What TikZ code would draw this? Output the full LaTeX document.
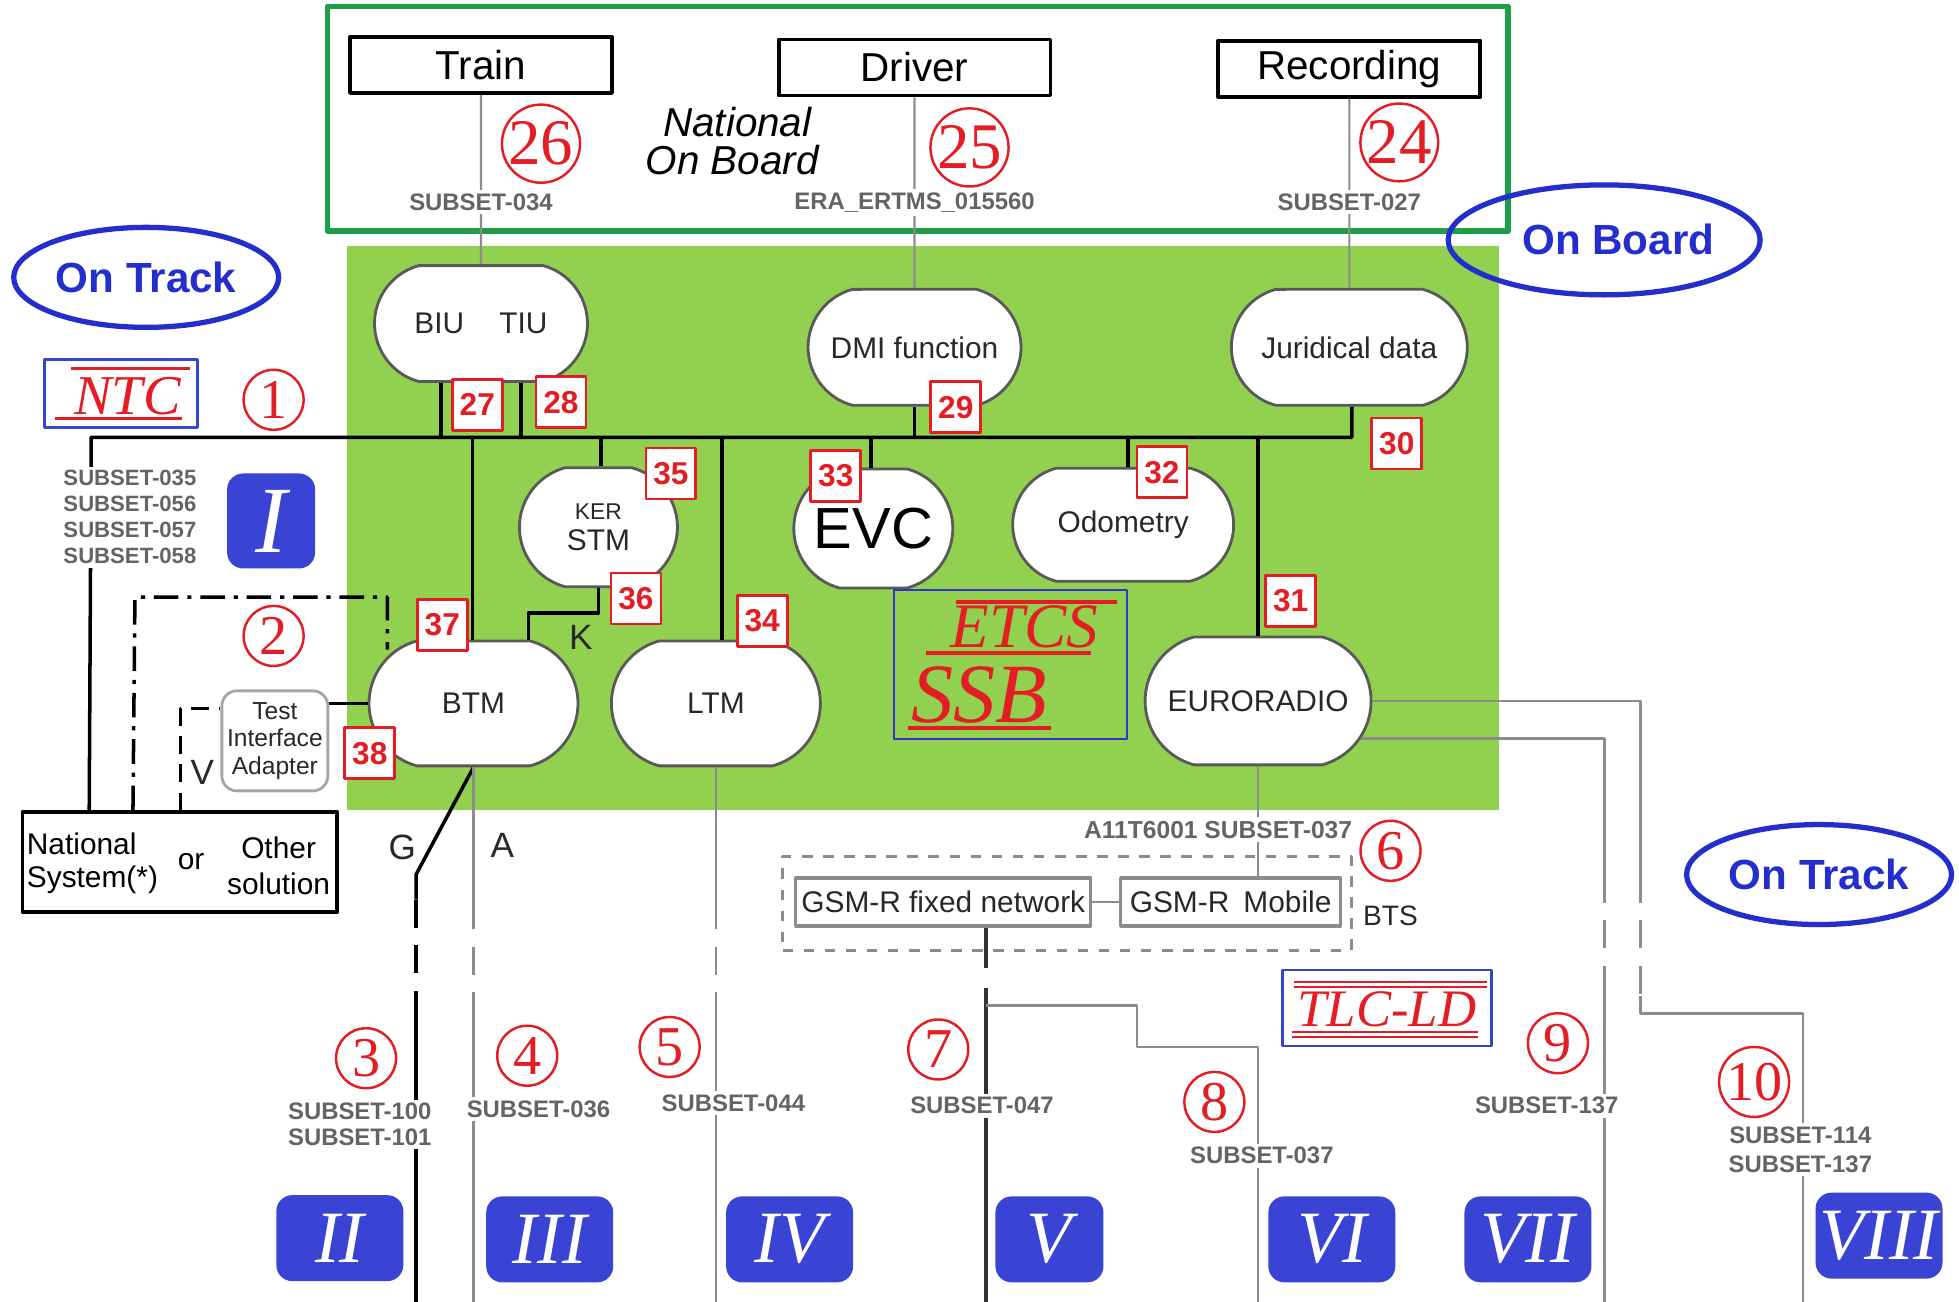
\documentclass[tikz,border=0pt]{standalone}
\usepackage{fontspec}
\setmainfont{Liberation Sans}
\newfontfamily\timesfont{Liberation Serif}
\usepackage{xcolor}
\usepackage{tikz}
\usetikzlibrary{shapes.geometric, shapes.misc, positioning, calc}

\definecolor{ssbgreen}{RGB}{146,208,80}
\definecolor{framegreen}{RGB}{30,158,70}
\definecolor{ovalblue}{RGB}{36,46,205}
\definecolor{romanblue}{RGB}{58,68,212}
\definecolor{refred}{RGB}{228,28,36}
\definecolor{wiregray}{RGB}{140,140,140}
\definecolor{subgray}{RGB}{100,100,100}
\definecolor{textgray}{RGB}{40,40,40}
\definecolor{boxblue}{RGB}{50,70,210}

\newcommand{\fsz}[2]{\fontsize{#1}{#2}\selectfont}

\begin{document}
\begin{tikzpicture}[x=0.0125cm, y=-0.0125cm, line join=round]
    \tikzstyle{extbox} = [rectangle, draw=black, line width=1.1pt, fill=white, minimum width=2.62cm, minimum height=0.56cm, inner sep=0pt, font=\fsz{11.5}{12}]
    \tikzstyle{func} = [rounded rectangle, rounded rectangle arc length=150, draw=black!65, line width=0.8pt, fill=white, text=textgray, minimum width=2.2cm, minimum height=1.16cm, inner sep=1pt, align=center, font=\fsz{8.5}{9}]
    \tikzstyle{reftag} = [rectangle, draw=refred, line width=0.8pt, fill=white, text=refred, minimum width=0.5cm, minimum height=0.51cm, inner sep=0pt, font=\bfseries\fsz{9}{9}]
    \tikzstyle{circnum} = [circle, draw=refred, line width=0.7pt, fill=white, text=refred, minimum size=0.6cm, inner sep=0pt, font=\timesfont\fsz{16}{16}]
    \tikzstyle{bigcircnum} = [circnum, minimum size=0.77cm, font=\timesfont\fsz{18.5}{18.5}]
    \tikzstyle{roman} = [rectangle, rounded corners=0.16cm, fill=romanblue, text=white, minimum width=1.27cm, minimum height=0.86cm, inner sep=0pt, font=\timesfont\itshape\fsz{21}{21}]
    \tikzstyle{subset} = [fill=white, text=subgray, inner sep=1pt, align=center, font=\bfseries\fsz{6.8}{7.3}]
    \tikzstyle{oval} = [ellipse, draw=ovalblue, line width=1.5pt, text=ovalblue, minimum width=2.65cm, minimum height=1.0cm, inner sep=0pt, font=\bfseries\fsz{12}{12}]
    \tikzstyle{titlebox} = [rectangle, draw=boxblue, line width=0.7pt]
    \tikzstyle{titletext} = [text=refred, inner sep=0pt, font=\timesfont\itshape]
    \tikzstyle{bar} = [refred, line width=1.1pt]
    \tikzstyle{bus} = [black, line width=1pt]
    \tikzstyle{wire} = [wiregray, line width=0.75pt]
    \tikzstyle{airgap} = [dash pattern=on 8pt off 5pt]
    \tikzstyle{letter} = [inner sep=0pt, text=textgray, font=\fsz{10}{10}]
    \tikzstyle{gsm} = [rectangle, draw=wiregray, line width=0.9pt, fill=white, minimum height=0.48cm, inner sep=1pt, text=textgray, font=\fsz{8.5}{9}]

    \useasboundingbox (0,0) rectangle (1568,1042);

    % Backgrounds: on board unit area and national on board frame
    \fill[white] (0,0) rectangle (1568,1042);
    \fill[ssbgreen] (278,197) rectangle (1200,648);
    \draw[framegreen, line width=1.5pt] (262,5) rectangle (1207,185);

    % National on board equipment
    \node (train) [extbox] at (385,52) {Train};
    \node (driver) [extbox, minimum width=2.72cm] at (732,54) {Driver};
    \node (record) [extbox] at (1080,55) {Recording};
    \node (natob) [align=left, inner sep=0pt, font=\itshape\fsz{11.5}{10.6}] at (586,113) {\hspace*{5pt}National\\On Board};

    % ETCS functions
    \node (biu) [func] at (385,259) {BIU\hspace{10pt}TIU};
    \node (dmi) [func] at (732,278) {DMI function};
    \node (jur) [func, minimum width=2.43cm] at (1080,278) {Juridical data};
    \node (kstm) [func, minimum width=1.65cm, minimum height=1.19cm] at (479,422) {{\fsz{6.5}{7}KER}\\STM};
    \node (evc) [func, minimum width=1.66cm, minimum height=1.19cm, text=black, font=\fsz{16.5}{17}] at (699,423) {EVC};
    \node (odo) [func, minimum width=2.28cm, minimum height=1.13cm] at (899,420) {Odometry};
    \node (btm) [func, minimum width=2.16cm, minimum height=1.25cm] at (379,563) {BTM};
    \node (ltm) [func, minimum width=2.16cm, minimum height=1.25cm] at (573,563) {LTM};
    \node (radio) [func, minimum width=2.33cm, minimum height=1.28cm] at (1007,561) {EURORADIO};

    % National system, test adapter and radio network
    \node (natsys) [rectangle, draw=black, line width=1.1pt, fill=white, minimum width=3.15cm, minimum height=1.0cm] at (144,690) {};
    \node (nsleft) [align=left, inner sep=0pt, font=\fsz{8.5}{9.5}] at (74,691) {National\\System(*)};
    \node (nsor) [inner sep=0pt, font=\fsz{8.5}{9.5}] at (153,690) {or};
    \node (nsright) [align=center, inner sep=0pt, font=\fsz{8.5}{10}] at (223,693) {Other\\solution};
    \node (tia) [rectangle, rounded corners=0.15cm, draw=black!35, line width=0.8pt, fill=white, minimum width=1.06cm, minimum height=1.0cm, inner sep=1pt, align=center, text=textgray, font=\fsz{7}{7.8}] at (220,593) {Test\\Interface\\Adapter};
    \node (gsmbox) [rectangle, draw=wiregray, dashed, line width=0.8pt, minimum width=5.69cm, minimum height=0.94cm] at (854,723) {};
    \node (gsmf) [gsm, minimum width=2.95cm] at (755,722) {GSM-R fixed network};
    \node (gsmm) [gsm, minimum width=2.2cm] at (985,722) {GSM-R\hspace{4pt}Mobile};

    % Bus inside the on board unit
    \coordinate (busW) at (73,350);
    \coordinate (busE) at (1082,350);
    \coordinate (jbiu) at (353,350);
    \coordinate (jtiu) at (417,350);
    \coordinate (jbtm) at (378,350);
    \coordinate (jker) at (481,350);
    \coordinate (jltm) at (578,350);
    \coordinate (jevc) at (697,350);
    \coordinate (jdmi) at (732,350);
    \coordinate (jodo) at (903,350);
    \coordinate (jrad) at (1007,350);
    \draw[bus] ($(natsys.north west)+(55,0)$) -- (busW) -- (busE) -- (jur.south -| busE);
    \draw[bus] (biu.south -| jbiu) -- (jbiu);
    \draw[bus] (biu.south -| jtiu) -- (jtiu);
    \draw[bus] (jbtm) -- (btm.north -| jbtm);
    \draw[bus] (jker) -- (kstm.north -| jker);
    \draw[bus] (jltm) -- (ltm.north -| jltm);
    \draw[bus] (jevc) -- (evc.north -| jevc);
    \draw[bus] (dmi.south) -- (jdmi);
    \draw[bus] (jodo) -- (odo.north -| jodo);
    \draw[bus] (jrad) -- (radio.north);
    \draw[bus] (kstm.south) -- ++(0,20) -| ($(btm.north)+(44,0)$);

    % Interfaces to the national on board equipment
    \draw[wire, line width=0.6pt] (train) -- (biu);
    \draw[wire, line width=0.6pt] (driver) -- (dmi);
    \draw[wire, line width=0.6pt] (record) -- (jur);

    % National system links
    \coordinate (ddL) at (108,478);
    \coordinate (ddR) at (310,478);
    \draw[bus, dash pattern=on 7pt off 2.5pt on 1.2pt off 2.5pt] ($(natsys.north west)+(90,0)$) -- (ddL) -- (ddR) -- ++(0,42);
    \draw[bus, dash pattern=on 5pt off 3pt] ($(natsys.north west)+(128,0)$) |- ($(tia.west)+(0,-26)$);
    \draw[bus] (tia.east |- btm.west) -- (btm.west);

    % Links to the track side
    \coordinate (gKnee) at (333,700);
    \draw[bus] (btm.south) -- (gKnee) -- ++(0,20) coordinate (gTop);
    \draw[bus, airgap] (gTop) -- ++(0,80) coordinate (gBot);
    \draw[bus] (gBot) -- ++(0,242);
    \draw[wire] (btm.south) -- ++(0,107) coordinate (aTop);
    \draw[wire, airgap] (aTop) -- ++(0,80) coordinate (aBot);
    \draw[wire] (aBot) -- ++(0,242);
    \draw[wire] (ltm.south) -- ++(0,107) coordinate (lTop);
    \draw[wire, airgap] (lTop) -- ++(0,80) coordinate (lBot);
    \draw[wire] (lBot) -- ++(0,242);

    % Radio links
    \draw[bus, black!80] ($(gsmf.south)+(34,0)$) -- ++(0,32) coordinate (gsmTop);
    \draw[bus, black!80] ($(gsmTop)+(0,16)$) -- ++(0,253);
    \coordinate (j7) at (789,805);
    \draw[wire] (j7) -- ++(121,0) -- ++(0,33) -- ++(97,0) -- ++(0,204);
    \draw[wire] (gsmf) -- (gsmm);
    \draw[wire] (radio.south) -- (radio.south |- gsmm.north);
    \coordinate (upTurn) at (1313,700);
    \coordinate (loTurn) at (1284,700);
    \draw[wire] (radio.east) -- (radio.east -| upTurn) -- (upTurn);
    \draw[wire, airgap] (upTurn) -- ++(0,97) coordinate (upBot);
    \draw[wire] (upBot) -- ++(0,14) -- ++(130,0) -- ++(0,231);
    \draw[wire] (radio.340) -- (radio.340 -| loTurn) -- (loTurn);
    \draw[wire, airgap] (loTurn) -- ++(0,92) coordinate (loBot);
    \draw[wire] (loBot) -- ++(0,250);

    % Specification references
    \node (s034) [subset] at (385,162) {SUBSET-034};
    \node (s15560) [subset] at (732,162) {ERA\_ERTMS\_015560};
    \node (s027) [subset] at (1080,162) {SUBSET-027};
    \node (sntc) [subset, font=\bfseries\fsz{6.3}{7.4}] at (104,414) {SUBSET-035\\SUBSET-056\\SUBSET-057\\SUBSET-058};
    \node (s100) [subset] at (288,900) {SUBSET-100\\SUBSET-101};
    \node (s036) [subset] at (431,888) {SUBSET-036};
    \node (s044) [subset] at (587,883) {SUBSET-044};
    \node (s047) [subset] at (786,885) {SUBSET-047};
    \node (s037) [subset] at (1010,925) {SUBSET-037};
    \node (s137) [subset] at (1238,885) {SUBSET-137};
    \node (s114) [subset, font=\bfseries\fsz{6.8}{8.2}] at (1441,920) {SUBSET-114\\SUBSET-137};
    \node (sradio) [subset, font=\bfseries\fsz{7}{8}] at (975,664) {A11T6001 SUBSET-037};

    % Internal interface numbers
    \node (t27) [reftag] at (382,324) {27};
    \node (t28) [reftag] at (449,322) {28};
    \node (t29) [reftag] at (765,326) {29};
    \node (t30) [reftag] at (1118,355) {30};
    \node (t31) [reftag] at (1033,481) {31};
    \node (t32) [reftag] at (930,378) {32};
    \node (t33) [reftag] at (669,381) {33};
    \node (t34) [reftag] at (610,497) {34};
    \node (t35) [reftag] at (537,379) {35};
    \node (t36) [reftag] at (509,479) {36};
    \node (t37) [reftag] at (354,500) {37};
    \node (t38) [reftag] at (296,603) {38};

    % External interface numbers
    \node (c1) [circnum] at (219,320) {1};
    \node (c2) [circnum] at (219,509) {2};
    \node (c3) [circnum] at (293,847) {3};
    \node (c4) [circnum] at (422,845) {4};
    \node (c5) [circnum] at (536,838) {5};
    \node (c6) [circnum] at (1113,681) {6};
    \node (c7) [circnum] at (751,840) {7};
    \node (c8) [circnum] at (972,882) {8};
    \node (c9) [circnum] at (1247,835) {9};
    \node (c10) [circnum, minimum size=0.7cm] at (1404,866) {10};
    \node (c24) [bigcircnum] at (1120,114) {24};
    \node (c25) [bigcircnum] at (776,118) {25};
    \node (c26) [bigcircnum] at (433,115) {26};

    % Interface groups
    \node (rI) [roman, minimum width=0.88cm, minimum height=0.95cm, font=\timesfont\itshape\fsz{27}{27}] at (217,417) {I};
    \node (rII) [roman] at (272,991) {II};
    \node (rIII) [roman] at (440,992) {III};
    \node (rIV) [roman] at (632,992) {IV};
    \node (rV) [roman, minimum width=1.08cm] at (840,992) {V};
    \node (rVI) [roman] at (1066,992) {VI};
    \node (rVII) [roman] at (1223,992) {VII};
    \node (rVIII) [roman] at (1504,989) {VIII};

    % Scope labels
    \node (trackL) [oval] at (117,222) {On Track};
    \node (board) [oval, minimum width=3.12cm, minimum height=1.1cm] at (1284,192) {\hspace*{8pt}On Board};
    \node (trackR) [oval] at (1456,700) {On Track};

    % Subsystem titles
    \node (ntcbox) [titlebox, minimum width=1.53cm, minimum height=0.68cm] at (97,315) {};
    \node (ntc) [titletext, font=\timesfont\itshape\fsz{16}{16}] at (102,317) {NTC};
    \draw[bar] (57,295) -- (152,295);
    \draw[bar] (44,335) -- (146,335);
    \node (ssbbox) [titlebox, draw=blue!60!gray, minimum width=2.33cm, minimum height=1.49cm] at (809,532) {};
    \node (etcs) [titletext, font=\timesfont\itshape\fsz{18}{18}] at (820,502) {ETCS};
    \node (ssb) [titletext, font=\timesfont\itshape\fsz{24}{24}] at (784,556) {SSB};
    \draw[bar] (765,482) -- (894,482);
    \draw[bar] (741,523) -- (873,523);
    \draw[bar] (727,583) -- (841,583);
    \node (tlcbox) [titlebox, minimum width=2.09cm, minimum height=0.76cm] at (1110,807) {};
    \node (tlc) [titletext, font=\timesfont\itshape\fsz{15}{15}] at (1110,808) {TLC-LD};
    \draw[bar, line width=0.5pt, double=white, double distance=0.9pt] (1036,788) -- (1190,788);
    \draw[bar, line width=0.5pt, double=white, double distance=0.9pt] (1034,828) -- (1183,828);

    % Link letters
    \node (lG) [letter] at (322,678) {G};
    \node (lA) [letter] at (402,677) {A};
    \node (lK) [letter] at (465,510) {K};
    \node (lV) [letter] at (162,618) {V};
    \node (lbts) [letter, font=\fsz{8}{8}] at (1113,733) {BTS};
\end{tikzpicture}
\end{document}
